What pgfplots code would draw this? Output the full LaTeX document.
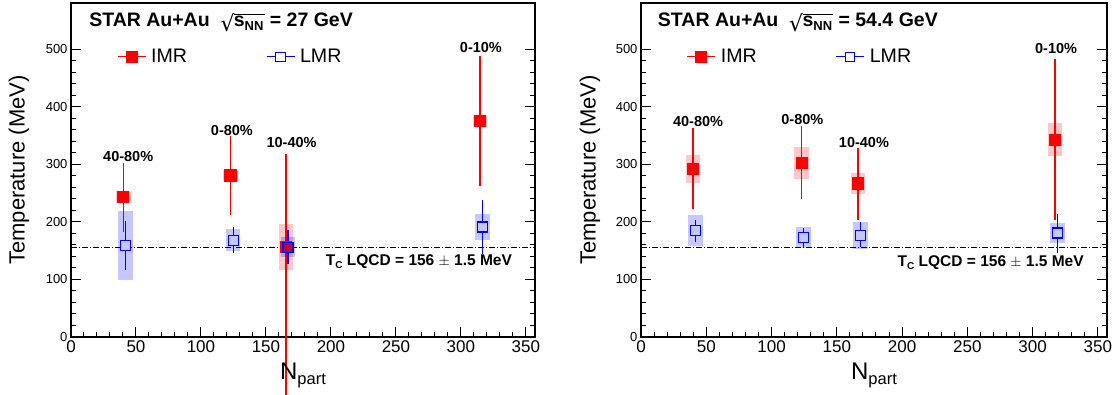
\documentclass[border=0pt]{standalone}
\usepackage{fontspec}
\setmainfont{Liberation Sans}
\newfontfamily\djv{DejaVu Sans}
\usepackage{pgfplots}
\usepackage{pgfplotstable}
\pgfplotsset{compat=1.18}

\definecolor{lmrfill}{RGB}{199,199,255}
\definecolor{mixfill}{RGB}{191,0,64}

\newcommand{\sqrts}{\mbox{\sbox0{s\raisebox{-4pt}{\fontsize{13}{13}\selectfont NN}\kern1pt}\sbox2{\raisebox{-5pt}{\djv\mdseries\fontsize{22}{22}\selectfont √}}\usebox2\kern-0.7pt\rlap{\rule[\dimexpr\ht2-0.9pt\relax]{\wd0}{0.9pt}}\usebox0}}

% x  y  ep  em  sys
\pgfplotstableread{
x y ep em sys
40.2 243 56 58 10
122.6 280.5 65 64.5 10
165.4 157 158 255 40
314.6 375.5 108.5 110 10
}\imrA
\pgfplotstableread{
x y ep em sys
42 159 39 39 60
124.8 168 19.5 19 19
316.6 191 43 43.4 23
}\lmrA
\pgfplotstableread{
x y ep em sys
167 156 26 25 17
}\lmrAb
\pgfplotstableread{
x y ep em sys
39.9 292 68 67 24
123 302.6 60.4 59 28
166.2 266.7 58.3 59.7 18
317.2 342.5 137.2 136 29
}\imrB
\pgfplotstableread{
x y ep em sys
41.9 184.5 14.5 16.5 27
124.6 173 13 13 18
168.3 176.4 19.6 17.4 24
319 180.5 30 30.5 18
}\lmrB

\pgfplotsset{
  starpanel/.style={
    scale only axis, height=334pt,
    xmin=0, xmax=357, ymin=0, ymax=580,
    xtick={0,50,...,350}, ytick={0,100,...,500},
    minor x tick num=4, minor y tick num=4,
    xtick pos=left, ytick pos=both,
    tick align=inside,
    major tick length=10pt, minor tick length=5pt,
    every tick/.style={black, line width=1pt},
    axis line style={line width=1.5pt},
    clip=false,
    /pgf/number format/assume math mode=true,
    y tick label style={font=\fontsize{13}{15}\selectfont},
    x tick label style={font=\fontsize{17}{19}\selectfont},
    xlabel={N\raisebox{-5pt}{\fontsize{16.5}{17}\selectfont part}},
    ylabel={Temperature (MeV)},
    every axis x label/.style={at={(axis description cs:0.5,0)}, yshift=-43pt, anchor=base, font=\fontsize{24}{26}\selectfont},
    legend columns=2,
    legend image code/.code={\draw[mark repeat=2,mark phase=2,##1] plot coordinates {(0pt,0pt) (14pt,0pt) (28pt,0pt)};},
    legend style={draw=none, fill=none, inner sep=0pt, outer sep=0pt,
      nodes={inner sep=0pt}, anchor=west,
      font=\fontsize{19.6}{22}\selectfont,
      /tikz/every odd column/.append style={column sep=5pt},
      /tikz/every even column/.append style={column sep=79pt}},
  },
  sysbox/.style={only marks, mark=none, forget plot,
    error bars/.cd, y dir=both, y explicit, error mark=none,
    error bar style={line width=14.5pt, draw=#1, draw opacity=0.22}},
  imrstat/.style={only marks, forget plot, red, mark=square*, mark size=5.6pt,
    mark options={fill=red, draw=red, line width=0.8pt},
    error bars/.cd, y dir=both, y explicit,
    error bar style={line width=1.3pt, red},
    error mark options={mark size=2pt, line width=1.2pt, red}},
  lmrstat/.style={only marks, forget plot, blue, mark=square*, mark size=5pt,
    mark options={fill=#1, draw=blue, line width=1.2pt},
    error bars/.cd, y dir=both, y explicit,
    error bar style={line width=1.3pt, blue},
    error mark options={mark size=2pt, line width=1.2pt, blue}},
  tcline/.style={black, line width=0.8pt, dash pattern=on 6pt off 2pt on 1pt off 2pt, forget plot},
}

\begin{document}
\begin{tikzpicture}
\useasboundingbox (0,0) rectangle (1115pt,395pt);

% ---------------- left panel: 27 GeV ----------------
\begin{axis}[starpanel, width=464pt, at={(71pt,58pt)}, anchor=south west,
  every axis y label/.style={at={(axis description cs:-0.112,0.5)}, rotate=90, anchor=center, font=\fontsize{22}{24}\selectfont},
  legend style={at={(axis description cs:0.099,0.839)}}]
\addlegendimage{red, line width=1.2pt, mark=square*, mark size=5.6pt, mark options={fill=red, line width=0.8pt}}
\addlegendentry{IMR}
\addlegendimage{blue, line width=1pt, mark=square*, mark size=4.6pt, mark options={fill=white, line width=1pt}}
\addlegendentry{LMR}
\addplot[tcline] coordinates {(0,156) (357,156)};
\addplot[sysbox=red] table[x=x, y=y, y error=sys] {\imrA};
\addplot[imrstat] table[x=x, y=y, y error plus=ep, y error minus=em] {\imrA};
\addplot[sysbox=blue] table[x=x, y=y, y error=sys] {\lmrA};
\addplot[sysbox=blue] table[x=x, y=y, y error=sys] {\lmrAb};
\addplot[lmrstat=lmrfill] table[x=x, y=y, y error plus=ep, y error minus=em] {\lmrA};
\addplot[lmrstat=mixfill] table[x=x, y=y, y error plus=ep, y error minus=em] {\lmrAb};
\node[anchor=base west, inner sep=0pt, font=\bfseries\fontsize{19.5}{21}\selectfont] at (axis description cs:0.039,0.929) {STAR Au+Au\ \ \sqrts\ = 27 GeV};
\begin{scope}[every node/.style={font=\bfseries\fontsize{14.5}{16}\selectfont, inner sep=0pt}]
\node at (axis cs:44,313) {40-80\%};
\node at (axis cs:123.8,358.7) {0-80\%};
\node at (axis cs:169.7,338) {10-40\%};
\node at (axis cs:315.4,503) {0-10\%};
\end{scope}
\node[anchor=west, inner sep=0pt, font=\bfseries\fontsize{15.5}{17}\selectfont] at (axis cs:196,131) {T\raisebox{-3pt}{\fontsize{10}{10}\selectfont C} LQCD = 156 $\pm$ 1.5 MeV};
\end{axis}

% ---------------- right panel: 54.4 GeV ----------------
\begin{axis}[starpanel, width=466pt, at={(641pt,58pt)}, anchor=south west,
  every axis y label/.style={at={(axis description cs:-0.1094,0.5)}, rotate=90, anchor=center, font=\fontsize{22}{24}\selectfont},
  legend style={at={(axis description cs:0.098,0.839)}}]
\addlegendimage{red, line width=1.2pt, mark=square*, mark size=5.6pt, mark options={fill=red, line width=0.8pt}}
\addlegendentry{IMR}
\addlegendimage{blue, line width=1pt, mark=square*, mark size=4.6pt, mark options={fill=white, line width=1pt}}
\addlegendentry{LMR}
\addplot[tcline] coordinates {(0,156) (357,156)};
\addplot[sysbox=red] table[x=x, y=y, y error=sys] {\imrB};
\addplot[imrstat] table[x=x, y=y, y error plus=ep, y error minus=em] {\imrB};
\addplot[sysbox=blue] table[x=x, y=y, y error=sys] {\lmrB};
\addplot[lmrstat=lmrfill] table[x=x, y=y, y error plus=ep, y error minus=em] {\lmrB};
\node[anchor=base west, inner sep=0pt, font=\bfseries\fontsize{19.5}{21}\selectfont] at (axis description cs:0.036,0.929) {STAR Au+Au\ \ \sqrts\ = 54.4 GeV};
\begin{scope}[every node/.style={font=\bfseries\fontsize{14.5}{16}\selectfont, inner sep=0pt}]
\node at (axis cs:43.7,374) {40-80\%};
\node at (axis cs:123.6,377) {0-80\%};
\node at (axis cs:170.8,338) {10-40\%};
\node at (axis cs:318,500.5) {0-10\%};
\end{scope}
\node[anchor=west, inner sep=0pt, font=\bfseries\fontsize{15.5}{17}\selectfont] at (axis cs:196.5,129.5) {T\raisebox{-3pt}{\fontsize{10}{10}\selectfont C} LQCD = 156 $\pm$ 1.5 MeV};
\end{axis}
\end{tikzpicture}
\end{document}
